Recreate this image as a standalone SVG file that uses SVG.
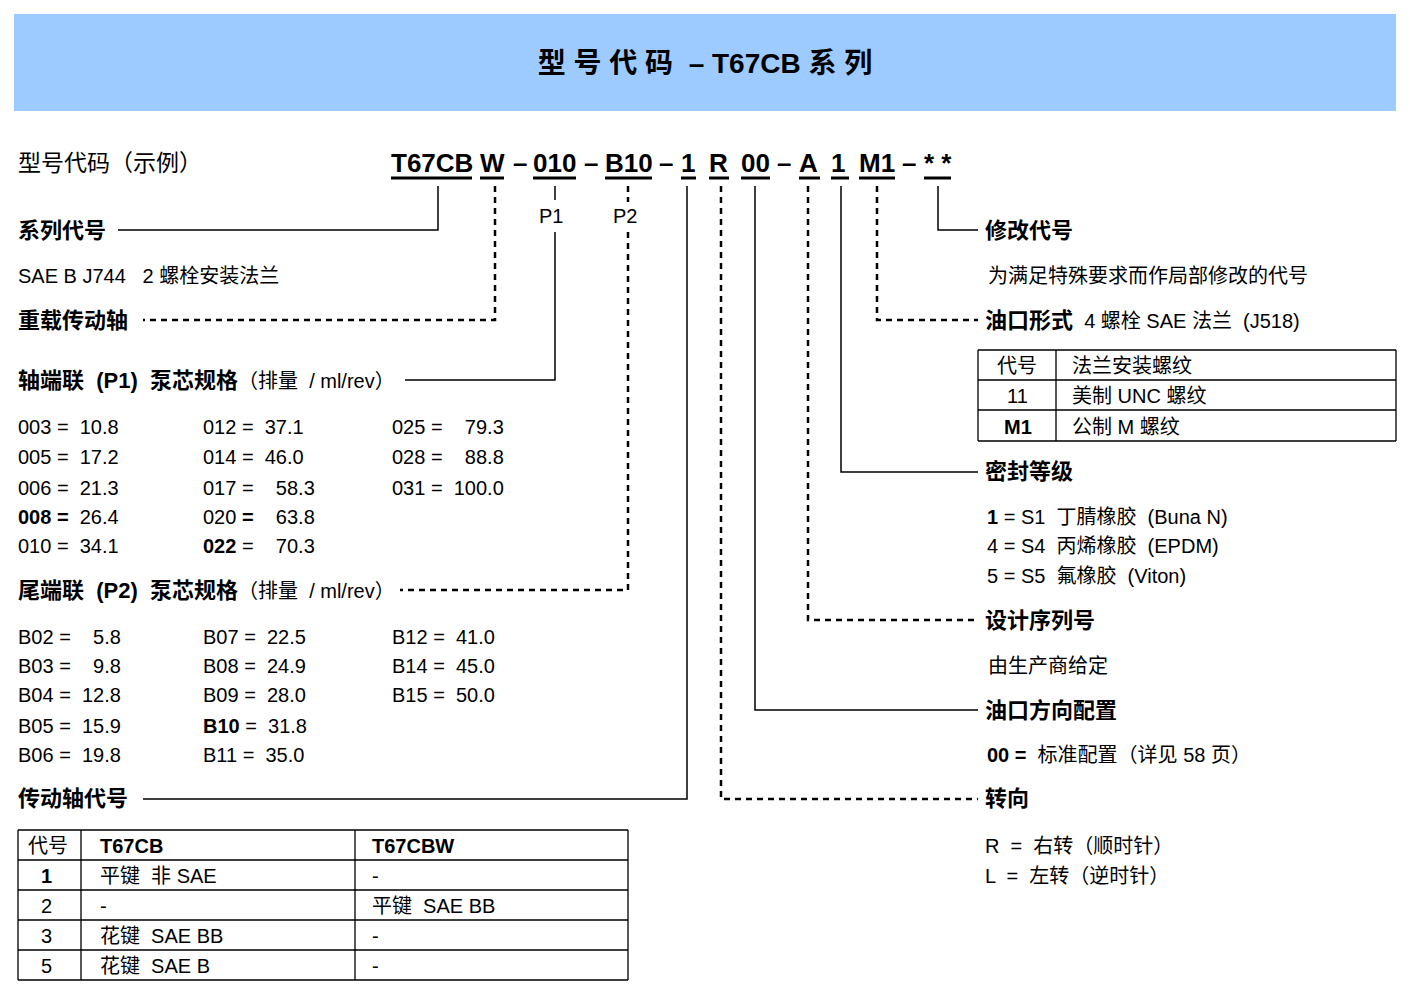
<svg xmlns="http://www.w3.org/2000/svg" width="1410" height="993" viewBox="0 0 1410 993">
<style>
text{font-family:"Liberation Sans","Noto Sans CJK SC",sans-serif;font-size:20px;fill:#000;white-space:pre}
.b{font-weight:bold}
.h{font-weight:bold;font-size:22px}
.c{font-weight:bold;font-size:26px}
.ti{font-weight:bold;font-size:28px}
.big{font-size:23px}
.s{stroke:#000;stroke-width:1.5;fill:none}
.d{stroke:#000;stroke-width:2.5;fill:none;stroke-dasharray:6,5}
.t{stroke:#000;stroke-width:1.3;fill:none}
.u{stroke:#000;stroke-width:3}
</style>
<rect x="14" y="14" width="1382" height="97" fill="#9ECBFF"/>
<text x="705" y="73" text-anchor="middle" class="ti">型 号 代 码  – T67CB 系 列</text>
<text x="18" y="171" class="big">型号代码（示例）</text>
<g id="code">
<text x="391" y="172" class="c">T67CB</text><line x1="391" y1="178" x2="472" y2="178" class="u"/>
<text x="480" y="172" class="c">W</text><line x1="480" y1="178" x2="504" y2="178" class="u"/>
<text x="513" y="172" class="c">–</text>
<text x="533" y="172" class="c">010</text><line x1="533" y1="178" x2="576" y2="178" class="u"/>
<text x="584" y="172" class="c">–</text>
<text x="605" y="172" class="c">B10</text><line x1="605" y1="178" x2="652" y2="178" class="u"/>
<text x="659" y="172" class="c">–</text>
<text x="681" y="172" class="c">1</text><line x1="681" y1="178" x2="696" y2="178" class="u"/>
<text x="709" y="172" class="c">R</text><line x1="709" y1="178" x2="729" y2="178" class="u"/>
<text x="741" y="172" class="c">00</text><line x1="741" y1="178" x2="770" y2="178" class="u"/>
<text x="777" y="172" class="c">–</text>
<text x="799" y="172" class="c">A</text><line x1="799" y1="178" x2="820" y2="178" class="u"/>
<text x="831" y="172" class="c">1</text><line x1="831" y1="178" x2="849" y2="178" class="u"/>
<text x="859" y="172" class="c">M1</text><line x1="859" y1="178" x2="895" y2="178" class="u"/>
<text x="902" y="172" class="c">–</text>
<text x="924" y="172" class="c">* *</text><line x1="924" y1="178" x2="951" y2="178" class="u"/>
</g>
<g id="connectors">
<polyline points="438,186 438,230 118,230" class="s"/>
<polyline points="495,186 495,320 143,320" class="d"/>
<line x1="555" y1="186" x2="555" y2="200" class="s"/>
<polyline points="555,232 555,380 405,380" class="s"/>
<line x1="628" y1="186" x2="628" y2="202" class="d"/>
<polyline points="628,232 628,590 400,590" class="d"/>
<polyline points="687,186 687,799 143,799" class="s"/>
<polyline points="721,186 721,799 978,799" class="d"/>
<polyline points="755,186 755,710 978,710" class="s"/>
<polyline points="808,186 808,620 978,620" class="d"/>
<polyline points="841,186 841,472 978,472" class="s"/>
<polyline points="877,186 877,320 978,320" class="d"/>
<polyline points="938,186 938,230 978,230" class="s"/>
</g>
<text x="539" y="223">P1</text>
<text x="613" y="223">P2</text>
<g id="left">
<text x="18" y="238" class="h">系列代号</text>
<text x="18" y="283">SAE B J744   2 螺栓安装法兰</text>
<text x="18" y="328" class="h">重载传动轴</text>
<text x="18" y="388"><tspan class="h">轴端联  (P1)  泵芯规格</tspan>（排量  / ml/rev）</text>
<text x="18" y="434">003 =  10.8</text><text x="203" y="434">012 =  37.1</text><text x="392" y="434">025 =    79.3</text>
<text x="18" y="464">005 =  17.2</text><text x="203" y="464">014 =  46.0</text><text x="392" y="464">028 =    88.8</text>
<text x="18" y="495">006 =  21.3</text><text x="203" y="495">017 =    58.3</text><text x="392" y="495">031 =  100.0</text>
<text x="18" y="524"><tspan class="b">008 =</tspan>  26.4</text><text x="203" y="524">020 <tspan class="b">=</tspan>    63.8</text>
<text x="18" y="553">010 =  34.1</text><text x="203" y="553"><tspan class="b">022</tspan> =    70.3</text>
<text x="18" y="598"><tspan class="h">尾端联  (P2)  泵芯规格</tspan>（排量  / ml/rev）</text>
<text x="18" y="644">B02 =    5.8</text><text x="203" y="644">B07 =  22.5</text><text x="392" y="644">B12 =  41.0</text>
<text x="18" y="673">B03 =    9.8</text><text x="203" y="673">B08 =  24.9</text><text x="392" y="673">B14 =  45.0</text>
<text x="18" y="702">B04 =  12.8</text><text x="203" y="702">B09 =  28.0</text><text x="392" y="702">B15 =  50.0</text>
<text x="18" y="733">B05 =  15.9</text><text x="203" y="733"><tspan class="b">B10</tspan> =  31.8</text>
<text x="18" y="762">B06 =  19.8</text><text x="203" y="762">B11 =  35.0</text>
<text x="18" y="806" class="h">传动轴代号</text>
</g>
<g id="table-shaft">
<path d="M18,830H628M18,860H628M18,890H628M18,920H628M18,950H628M18,980H628M18,830V980M81,830V980M355,830V980M628,830V980" class="t"/>
<text x="28" y="853">代号</text><text x="100" y="853" class="b">T67CB</text><text x="372" y="853" class="b">T67CBW</text>
<text x="41" y="883" class="b">1</text><text x="100" y="883">平键  非 SAE</text><text x="372" y="883">-</text>
<text x="41" y="913">2</text><text x="100" y="913">-</text><text x="372" y="913">平键  SAE BB</text>
<text x="41" y="943">3</text><text x="100" y="943">花键  SAE BB</text><text x="372" y="943">-</text>
<text x="41" y="973">5</text><text x="100" y="973">花键  SAE B</text><text x="372" y="973">-</text>
</g>
<g id="right">
<text x="985" y="238" class="h">修改代号</text>
<text x="988" y="283">为满足特殊要求而作局部修改的代号</text>
<text x="985" y="328"><tspan class="h">油口形式</tspan>  4 螺栓 SAE 法兰  (J518)</text>
<text x="985" y="479" class="h">密封等级</text>
<text x="987" y="524"><tspan class="b">1</tspan> = S1  丁腈橡胶  (Buna N)</text>
<text x="987" y="553">4 = S4  丙烯橡胶  (EPDM)</text>
<text x="987" y="583">5 = S5  氟橡胶  (Viton)</text>
<text x="985" y="628" class="h">设计序列号</text>
<text x="988" y="673">由生产商给定</text>
<text x="985" y="718" class="h">油口方向配置</text>
<text x="987" y="762"><tspan class="b">00 =</tspan>  标准配置（详见 58 页）</text>
<text x="985" y="806" class="h">转向</text>
<text x="985" y="853">R  =  右转（顺时针）</text>
<text x="985" y="883">L  =  左转（逆时针）</text>
</g>
<g id="table-port">
<path d="M978,350H1396M978,380H1396M978,410H1396M978,441H1396M978,350V441M1056,350V441M1396,350V441" class="t"/>
<text x="997" y="373">代号</text><text x="1072" y="373">法兰安装螺纹</text>
<text x="1007" y="403">11</text><text x="1072" y="403">美制 UNC 螺纹</text>
<text x="1004" y="434" class="b">M1</text><text x="1072" y="434">公制 M 螺纹</text>
</g>
</svg>
